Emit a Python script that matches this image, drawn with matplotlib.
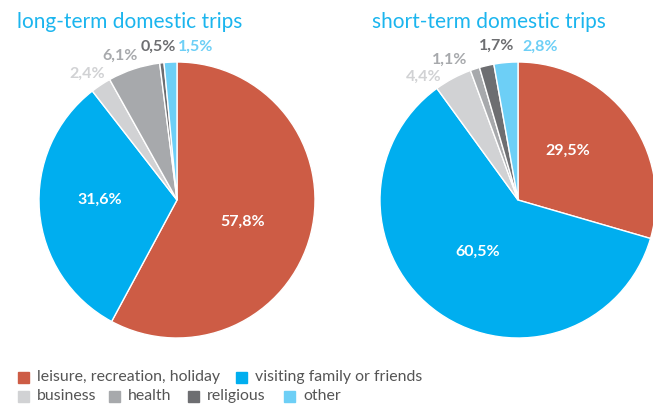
import matplotlib.pyplot as plt
from matplotlib.patches import Rectangle

plt.rcParams['font.family'] = ['Lato', 'DejaVu Sans']

# data
categories = ['leisure, recreation, holiday', 'visiting family or friends',
              'business', 'health', 'religious', 'other']
long_term = [57.8, 31.6, 2.4, 6.1, 0.5, 1.5]
short_term = [29.5, 60.5, 4.4, 1.1, 1.7, 2.8]
long_labels = ['57,8%', '31,6%', '2,4%', '6,1%', '0,5%', '1,5%']
short_labels = ['29,5%', '60,5%', '4,4%', '1,1%', '1,7%', '2,8%']

COLORS = ['#CD5C45', '#00AEEF', '#D1D2D4', '#A7A9AC', '#6D6E71', '#6DCFF6']
LABEL_COLORS = ['white', 'white', '#D1D2D4', '#A7A9AC', '#6D6E71', '#6DCFF6']
TITLE_COLOR = '#1BB5EE'
TEXT_COLOR = '#555555'

W, H = 653, 404
fig = plt.figure(figsize=(W / 100, H / 100), dpi=100)
ax = fig.add_axes([0, 0, 1, 1])

R = 138


def draw_pie(values, labels, center, label_pos):
    # y axis is inverted: start at -90 and go counterclockwise in data space
    # -> visually starts at top and runs clockwise
    ax.pie(values, colors=COLORS, startangle=-90, counterclock=True,
           center=center, radius=R, frame=True,
           wedgeprops=dict(edgecolor='white', linewidth=1))
    for lab, col, (x, y) in zip(labels, LABEL_COLORS, label_pos):
        ax.text(x, y, lab, color=col, fontsize=11.5, fontweight='bold',
                ha='center', va='center')


draw_pie(long_term, long_labels, (177, 200),
         [(243, 222), (100, 200), (87, 74), (120, 56), (158, 47), (196, 47)])
draw_pie(short_term, short_labels, (518, 200),
         [(568, 151), (478, 252), (424, 77), (450, 60), (497, 46), (540, 47)])
ax.set_xlim(0, W)
ax.set_ylim(H, 0)
ax.set_aspect('equal')
ax.axis('off')

ax.text(17, 22, 'long-term domestic trips', color=TITLE_COLOR, fontsize=15,
        ha='left', va='center')
ax.text(372, 22, 'short-term domestic trips', color=TITLE_COLOR, fontsize=15,
        ha='left', va='center')

# legend, two rows
rows = [[(0, 18), (1, 236)], [(2, 18), (3, 109), (4, 188), (5, 284)]]
for y, row in zip([377, 396], rows):
    for idx, x in row:
        ax.add_patch(Rectangle((x, y - 5.5), 11, 11, color=COLORS[idx],
                               clip_on=False))
        ax.text(x + 19, y, categories[idx], color=TEXT_COLOR, fontsize=11.4,
                ha='left', va='center')

fig.savefig('out.png', dpi=100)
